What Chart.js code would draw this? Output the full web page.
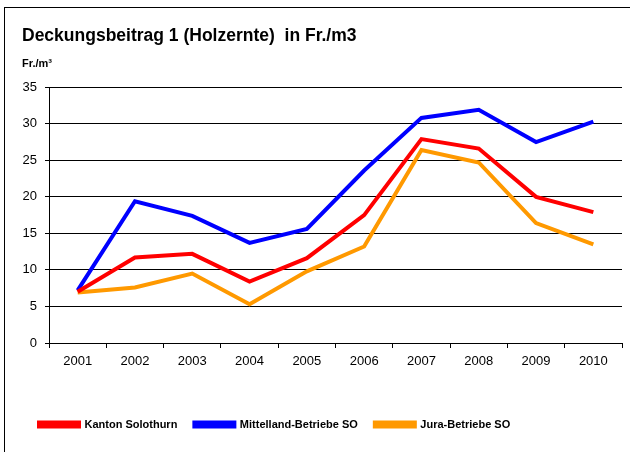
<!DOCTYPE html>
<html>
<head>
<meta charset="utf-8">
<script src="https://cdn.jsdelivr.net/npm/chart.js@4/dist/chart.umd.min.js"></script>
<style>
  html, body { margin: 0; padding: 0; background: #fff; }
  #wrap { position: relative; width: 630px; height: 452px; overflow: hidden; }
  #frame { position: absolute; left: 4px; top: 7px; width: 640px; height: 460px; border: 1px solid #000; box-sizing: border-box; }
  canvas { position: absolute; left: 0; top: 0; }
</style>
</head>
<body>
<div id="wrap">
  <div id="frame"></div>
  <canvas id="chart" width="630" height="452"></canvas>
</div>
<script>
var years = ['2001', '2002', '2003', '2004', '2005', '2006', '2007', '2008', '2009', '2010'];
var kantonSolothurn = [7.0, 11.7, 12.2, 8.4, 11.6, 17.5, 27.9, 26.6, 20.0, 17.9];
var mittellandBetriebe = [7.2, 19.4, 17.4, 13.7, 15.6, 23.6, 30.8, 31.9, 27.5, 30.3];
var juraBetriebe = [6.9, 7.6, 9.5, 5.3, 9.8, 13.2, 26.4, 24.7, 16.4, 13.5];
var yTicks = [0, 5, 10, 15, 20, 25, 30, 35];

Chart.defaults.font.family = '"Liberation Sans", Arial, sans-serif';
Chart.defaults.color = '#000';

function line(label, data, color) {
  return {
    label: label,
    data: data,
    borderColor: color,
    backgroundColor: color,
    borderWidth: 4,
    pointRadius: 0,
    tension: 0,
    fill: false
  };
}

var ctx = document.getElementById('chart').getContext('2d');
var chart = new Chart(ctx, {
  type: 'line',
  data: {
    labels: years,
    datasets: [
      line('Kanton Solothurn', kantonSolothurn, '#ff0000'),
      line('Mittelland-Betriebe SO', mittellandBetriebe, '#0000ff'),
      line('Jura-Betriebe SO', juraBetriebe, '#ff9900')
    ]
  },
  options: {
    responsive: false,
    animation: false,
    layout: { padding: { left: 22, right: 8, top: 0, bottom: 12 } },
    plugins: {
      title: {
        display: true,
        text: 'Deckungsbeitrag 1 (Holzernte)  in Fr./m3',
        align: 'start',
        font: { size: 17.5, weight: 'bold' },
        padding: { top: 26, bottom: 9 }
      },
      subtitle: {
        display: true,
        text: 'Fr./m³',
        align: 'start',
        font: { size: 11, weight: 'bold' },
        padding: { top: 1, bottom: 17 }
      },
      legend: {
        position: 'bottom',
        align: 'start',
        labels: {
          boxWidth: 40,
          boxHeight: 4,
          padding: 17,
          font: { size: 11, weight: 'bold' }
        }
      },
      tooltip: { enabled: false }
    },
    scales: {
      x: {
        offset: true,
        grid: {
          offset: true,
          drawOnChartArea: false,
          drawTicks: true,
          tickLength: 5,
          color: '#000'
        },
        border: { color: '#000', width: 1 },
        ticks: { font: { size: 13 }, padding: 6, maxRotation: 0 },
        afterFit: function (s) { s.height = 59; }
      },
      y: {
        min: 0,
        max: 35,
        afterBuildTicks: function (s) {
          s.ticks = yTicks.map(function (v) { return { value: v }; });
        },
        grid: {
          color: '#000',
          lineWidth: 1,
          tickLength: 4,
          drawTicks: true
        },
        border: { color: '#000', width: 1 },
        ticks: { font: { size: 13 }, padding: 8 },
        afterFit: function (s) { s.width = 27; }
      }
    }
  }
});
</script>
</body>
</html>
